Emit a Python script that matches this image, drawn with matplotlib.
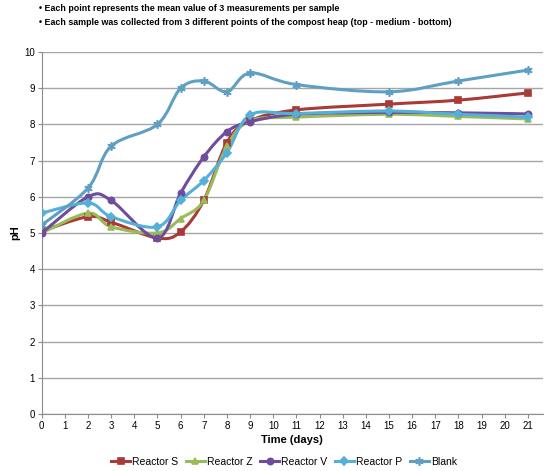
import matplotlib
matplotlib.use("Agg")
import matplotlib.pyplot as plt
from matplotlib.path import Path
from matplotlib.patches import PathPatch
from matplotlib.lines import Line2D
import numpy as np

plt.rcParams['font.family'] = ['Liberation Sans Narrow', 'Liberation Sans', 'DejaVu Sans']

# sampling days
days = [0, 2, 3, 5, 6, 7, 8, 9, 11, 15, 18, 21]

# mean pH per reactor
reactor_s = [5.05, 5.45, 5.30, 4.86, 5.03, 5.90, 7.50, 8.10, 8.40, 8.56, 8.67, 8.87]
reactor_z = [5.00, 5.55, 5.17, 5.00, 5.40, 5.90, 7.40, 8.10, 8.20, 8.28, 8.22, 8.15]
reactor_v = [5.00, 6.00, 5.90, 4.86, 6.10, 7.10, 7.80, 8.07, 8.28, 8.33, 8.32, 8.29]
reactor_p = [5.55, 5.83, 5.45, 5.17, 5.90, 6.45, 7.22, 8.26, 8.30, 8.37, 8.28, 8.20]
blank = [5.22, 6.24, 7.40, 8.00, 9.00, 9.20, 8.90, 9.42, 9.10, 8.90, 9.20, 9.50]

series_names = ['Reactor S', 'Reactor Z', 'Reactor V', 'Reactor P', 'Blank']
series_values = [reactor_s, reactor_z, reactor_v, reactor_p, blank]
colors = ['#A83A38', '#9BBB59', '#6E4C9E', '#55B0D8', '#5E9FC2']
markers = ['s', '^', 'o', 'D', (6, 2, 0)]
msizes = [4.5, 4.5, 4.5, 4.5, 6]


def smooth_path(x, y):
    # excel-like smoothed line: cubic bezier through the points
    pts = np.column_stack([x, y]).astype(float)
    n = len(pts)
    verts = [pts[0]]
    codes = [Path.MOVETO]
    for i in range(n - 1):
        p0 = pts[i - 1] if i > 0 else pts[i]
        p1 = pts[i]
        p2 = pts[i + 1]
        p3 = pts[i + 2] if i + 2 < n else pts[i + 1]
        c1 = p1 + (p2 - p0) / 6.0
        c2 = p2 - (p3 - p1) / 6.0
        verts += [c1, c2, p2]
        codes += [Path.CURVE4] * 3
    return Path(verts, codes)


fig = plt.figure(figsize=(5.46, 4.71), dpi=100)
ax = fig.add_axes([0.0764, 0.121, 0.918, 0.7686])

handles = []
for name, vals, col, mk, ms in zip(series_names, series_values, colors, markers, msizes):
    ax.add_patch(PathPatch(smooth_path(days, vals), facecolor='none',
                           edgecolor=col, lw=2.2, zorder=3))
    ax.plot(days, vals, linestyle='none', marker=mk, color=col,
            markersize=ms, markeredgewidth=1.2, zorder=4)
    handles.append(Line2D([], [], color=col, lw=2.2, marker=mk,
                          markersize=ms, markeredgewidth=1.2))

ax.set_xlim(0, 21.65)
ax.set_ylim(0, 10)
ax.set_xticks(range(0, 22))
ax.set_yticks(range(0, 11))
ax.tick_params(axis='both', labelsize=7, length=3, color='#8c8c8c', pad=2)
ax.grid(axis='y', color='#a6a6a6', lw=1)
ax.set_axisbelow(True)
for side in ['top', 'right']:
    ax.spines[side].set_visible(False)
for side in ['left', 'bottom']:
    ax.spines[side].set_color('#8c8c8c')

ax.set_xlabel('Time (days)', fontsize=8, fontweight='bold', labelpad=3)
ax.set_ylabel('pH', fontsize=8, fontweight='bold', labelpad=3)

fig.text(0.072, 0.982, '\u2022 Each point represents the mean value of 3 measurements per sample',
         fontsize=6.4, fontweight='bold', va='center', ha='left')
fig.text(0.072, 0.953, '\u2022 Each sample was collected from 3 different points of the compost heap (top - medium - bottom)',
         fontsize=6.4, fontweight='bold', va='center', ha='left')

fig.legend(handles, series_names, loc='center', bbox_to_anchor=(0.52, 0.019),
           ncol=5, frameon=False, fontsize=7.5, handlelength=1.8,
           handletextpad=0.2, columnspacing=0.75)

fig.savefig('out.png', dpi=100)
